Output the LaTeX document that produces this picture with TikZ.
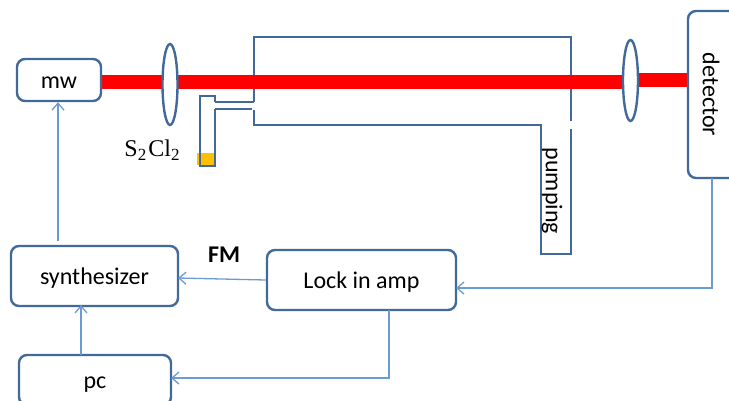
\documentclass[tikz,border=0pt]{standalone}
\usepackage{fontspec}
\setmainfont{Carlito}
\newfontfamily\sclfont{Liberation Serif}
\newcommand{\lowtwo}{\raisebox{-4pt}{\fontsize{17}{17}\selectfont 2}}
\definecolor{boxblue}{HTML}{41699A}
\definecolor{linkblue}{HTML}{6C9BD2}
\definecolor{beamred}{HTML}{FF0000}
\definecolor{liquid}{HTML}{FFC000}
\tikzset{
  box/.style={draw=boxblue,line width=2.4pt,rounded corners=8pt,fill=white,inner sep=0pt,font=\fontsize{24}{28}\selectfont,text height=20pt,text depth=3pt},
  wall/.style={draw=boxblue,line width=2.4pt},
  lens/.style={draw=boxblue,line width=2.4pt,fill=white},
  beam/.style={draw=beamred,line width=14pt},
  link/.style={draw=linkblue,line width=1.3pt,-{Straight Barb[length=7pt,width=12pt]}}
}
\usetikzlibrary{arrows.meta}
\begin{document}
\begin{tikzpicture}[x=1pt,y=-1pt]
  \clip (0,0) rectangle (729,400);
  % vacuum cell and pumping arm
  \draw[wall] (254,110) -- (254,125) -- (541,125) -- (541,254) -- (571,254) -- (571,129);
  \draw[wall] (254,101.5) -- (254,37) -- (571,37) -- (571,121);
  % sample tube
  \fill[liquid] (197,153) rectangle (214,165);
  \draw[wall] (215,102) -- (254,102);
  \draw[wall] (215,109) -- (252,109);
  \draw[wall] (215,102) -- (215,96) -- (200,96) -- (200,166) -- (215,166) -- (215,109);
  % beam
  \draw[beam] (100,81.5) -- (170,81.5);
  \draw[beam] (170,81.5) -- (630,81.5);
  \draw[beam] (630,80) -- (689,80);
  % lenses
  \draw[lens] (170,84.5) ellipse (7.5pt and 40.5pt);
  \draw[lens] (630.5,80.5) ellipse (7.5pt and 40.5pt);
  % boxes
  \node[box,minimum width=84pt,minimum height=42pt] (mw) at (59,80) {mw};
  \node[box,minimum width=167pt,minimum height=60pt] (synth) at (94.5,276) {synthesizer};
  \node[box,minimum width=189pt,minimum height=60pt] (lock) at (361.5,280) {Lock in amp};
  \node[box,minimum width=152pt,minimum height=50pt] (pc) at (95,380) {pc};
  \node[box,minimum width=60pt,minimum height=167pt] (detector) at (718,94.5) {};
  \node[font=\fontsize{24}{28}\selectfont,rotate=-90] (detlabel) at (711,94.5) {detector};
  \node[font=\fontsize{24}{28}\selectfont,rotate=-90] (pumplabel) at (552,191) {pumping};
  \node[font=\fontsize{24}{28}\selectfont\bfseries] (fm) at (224,255) {FM};
  \node[font=\fontsize{24}{28}\selectfont\sclfont] (sample) at (152,150) {S\lowtwo\hspace{2pt}Cl\lowtwo};
  % signal path
  \coordinate (synthout) at (58,241);
  \coordinate (synthin) at (178,278);
  \coordinate (synthlow) at (81,305);
  \coordinate (pcout) at (81,355);
  \coordinate (detout) at (712,178);
  \coordinate (lockin) at (456,288);
  \coordinate (lockout) at (389,310);
  \coordinate (pcin) at (171,378);
  \draw[link] (synthout) -- (mw.south -| synthout);
  \draw[link] (lock.west) -- (synthin);
  \draw[link] (pcout) -- (synthlow);
  \draw[link] (detout) |- (lockin);
  \draw[link] (lockout) |- (pcin);
\end{tikzpicture}
\end{document}
